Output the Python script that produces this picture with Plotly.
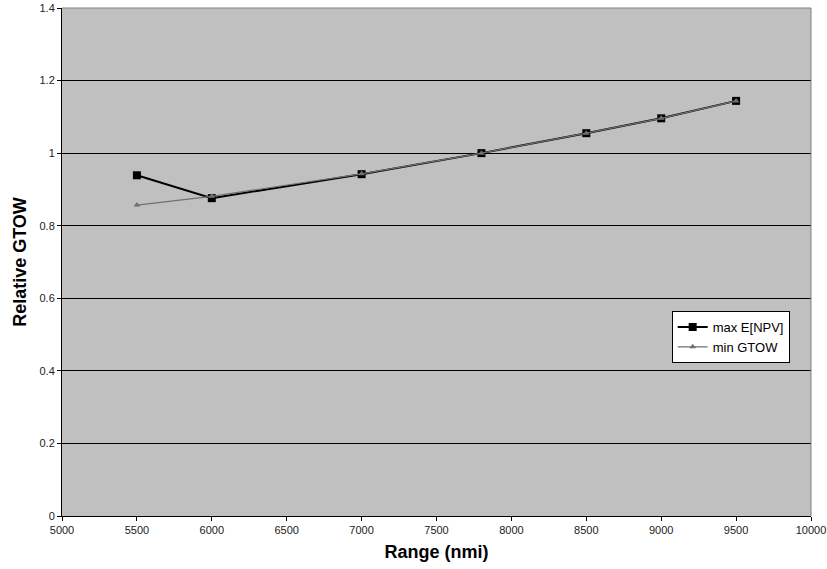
import plotly.graph_objects as go

# Range (nmi) and relative gross take-off weight for each design strategy
range_nmi = [5500, 6000, 7000, 7800, 8500, 9000, 9500]
max_enpv = [0.939, 0.876, 0.942, 1.000, 1.055, 1.096, 1.144]
min_gtow = [0.857, 0.881, 0.943, 1.000, 1.055, 1.096, 1.144]

x_ticks = list(range(5000, 10001, 500))
x_tick_text = [str(v) for v in x_ticks]
y_ticks = [0, 0.2, 0.4, 0.6, 0.8, 1, 1.2, 1.4]
y_tick_text = ["0", "0.2", "0.4", "0.6", "0.8", "1", "1.2", "1.4"]

fig = go.Figure()
fig.add_trace(go.Scatter(
    x=range_nmi, y=max_enpv, name="max E[NPV]", mode="lines+markers",
    line=dict(color="black", width=2),
    marker=dict(symbol="square", size=8, color="black"),
))
fig.add_trace(go.Scatter(
    x=range_nmi, y=min_gtow, name="min GTOW", mode="lines+markers",
    line=dict(color="#707070", width=1.2),
    marker=dict(symbol="triangle-up", size=6, color="#707070"),
))

font_family = "Liberation Sans, Arial, sans-serif"

fig.update_layout(
    width=827, height=569,
    margin=dict(l=62, r=16, t=8, b=53),
    paper_bgcolor="white",
    plot_bgcolor="#c0c0c0",
    font=dict(family=font_family, color="black"),
    showlegend=True,
    legend=dict(
        x=0.814, y=0.4035, xanchor="left", yanchor="top",
        bgcolor="white", bordercolor="black", borderwidth=1,
        font=dict(size=13, family=font_family, color="black"),
        tracegroupgap=0, itemwidth=30,
    ),
    xaxis=dict(
        range=[5000, 10000], tickvals=x_ticks, ticktext=x_tick_text,
        ticks="outside", ticklen=4, tickcolor="black",
        tickfont=dict(size=11, color="#222222"),
        showgrid=False, zeroline=False, automargin=False,
        showline=True, linecolor="black", linewidth=1, mirror=False,
        title=dict(text="<b>Range (nmi)</b>", font=dict(size=18), standoff=10),
    ),
    yaxis=dict(
        range=[0, 1.4], tickvals=y_ticks, ticktext=y_tick_text,
        ticks="outside", ticklen=4, tickcolor="black",
        tickfont=dict(size=11, color="#222222"),
        showgrid=True, gridcolor="black", gridwidth=1, zeroline=False,
        showline=True, linecolor="black", linewidth=1, automargin=False,
        title=dict(text="<b>Relative GTOW</b>", font=dict(size=18), standoff=8),
    ),
)

# light border around the top and right of the plotting area
fig.add_shape(type="line", xref="paper", yref="paper", x0=0, x1=1, y0=1, y1=1,
              line=dict(color="#808080", width=1))
fig.add_shape(type="line", xref="paper", yref="paper", x0=1, x1=1, y0=0, y1=1,
              line=dict(color="#808080", width=1))

fig.write_html("out.html")
